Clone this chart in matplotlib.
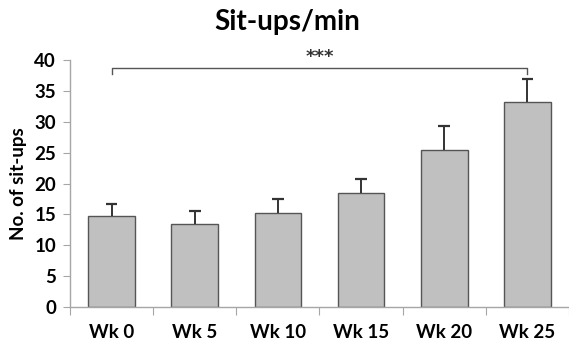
import matplotlib.pyplot as plt

weeks = ["Wk 0", "Wk 5", "Wk 10", "Wk 15", "Wk 20", "Wk 25"]
situps = [14.7, 13.4, 15.2, 18.4, 25.4, 33.2]
err_up = [2.0, 2.1, 2.3, 2.4, 3.9, 3.7]

plt.rcParams["font.family"] = ["Lato", "DejaVu Sans"]

fig = plt.figure(figsize=(5.69, 3.41), dpi=100)
ax = fig.add_axes([0.123, 0.0997, 0.877, 0.7243])

x = list(range(len(weeks)))
ax.bar(x, situps, width=0.56, color="#c0c0c0", edgecolor="#555555", linewidth=1.0, zorder=2)
# upper-only error bars
tops = [s + e for s, e in zip(situps, err_up)]
ax.vlines(x, situps, tops, color="#333333", lw=1.4, zorder=3)
ax.hlines(tops, [i - 0.07 for i in x], [i + 0.07 for i in x], color="#333333", lw=1.6, zorder=3)

# significance bracket Wk 0 -> Wk 25
ax.plot([0, 0, 5, 5], [37.8, 38.7, 38.7, 37.8], color="#555555", lw=1.0, zorder=3)
ax.text(2.5, 40.5, "***", ha="center", va="center", fontsize=13, fontweight="bold",
        color="#333333", family="DejaVu Sans", clip_on=False)

ax.set_xlim(-0.5, 5.44)
ax.set_ylim(0, 40)
ax.set_yticks(range(0, 41, 5))
ax.set_xticks([i + 0.5 for i in range(-1, 6)], minor=False)
ax.set_xticklabels([])
ax.set_xticks(x, minor=True)
ax.set_xticklabels(weeks, minor=True, fontsize=13.5, fontweight="bold")
ax.tick_params(axis="x", which="major", length=6, color="#a6a6a6")
ax.tick_params(axis="x", which="minor", length=0, pad=12)
ax.tick_params(axis="y", length=5, color="#a6a6a6", labelsize=13.5, pad=5)
for lab in ax.get_yticklabels():
    lab.set_fontweight("bold")

for s in ["top", "right"]:
    ax.spines[s].set_visible(False)
for s in ["left", "bottom"]:
    ax.spines[s].set_color("#a6a6a6")
    ax.spines[s].set_linewidth(1.0)

ax.set_ylabel("No. of sit-ups", fontsize=13.5, fontweight="bold", labelpad=5)
fig.text(0.505, 0.935, "Sit-ups/min", ha="center", va="center", fontsize=20, fontweight="bold")

fig.savefig("out.png", dpi=100)
